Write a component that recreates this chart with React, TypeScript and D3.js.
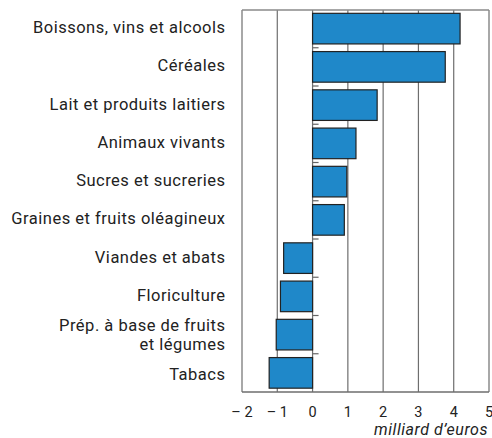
import React from "react";
import * as d3 from "d3";

const categories = [
  "Boissons, vins et alcools",
  "Céréales",
  "Lait et produits laitiers",
  "Animaux vivants",
  "Sucres et sucreries",
  "Graines et fruits oléagineux",
  "Viandes et abats",
  "Floriculture",
  "Prép. à base de fruits|et légumes",
  "Tabacs",
];
const values = [4.18, 3.76, 1.83, 1.23, 0.97, 0.9, -0.82, -0.91, -1.03, -1.23];
const xTicks = [-2, -1, 0, 1, 2, 3, 4, 5];
const xTickLabels = ["– 2", "– 1", "0", "1", "2", "3", "4", "5"];
const axisTitle = "milliard d’euros";

const W = 492;
const H = 438;
const FONT = "Roboto, 'Noto Sans', sans-serif";

export default function App() {
  const x = d3.scaleLinear().domain([-2, 5]).range([242, 489]);
  const y = d3.scaleBand<string>().domain(categories).range([9.5, 392]).paddingInner(0.2).paddingOuter(0.1);
  const top = 10;
  const bottom = 392;
  const step = y.step();
  const bw = y.bandwidth();
  const gap = step - bw;

  return (
    <svg width={W} height={H} style={{ position: "absolute", left: 0, top: 0, background: "#fff" }}>
      <rect x={0} y={0} width={W} height={H} fill="#fff" />
      {xTicks.map((t) => (
        <line key={"g" + t} x1={x(t)} x2={x(t)} y1={top} y2={bottom} stroke="#6e6e6e" strokeWidth={1.2} />
      ))}
      <line x1={x(-2)} x2={x(5)} y1={top} y2={top} stroke="#8a8a8a" strokeWidth={1.4} />
      <line x1={x(-2)} x2={x(5)} y1={bottom} y2={bottom} stroke="#6e6e6e" strokeWidth={1.4} />
      {categories.slice(1).map((c) => (
        <line key={"t" + c} x1={x(0)} x2={x(0) + 6} y1={(y(c) as number) - gap / 2} y2={(y(c) as number) - gap / 2} stroke="#666" strokeWidth={1.2} />
      ))}
      {categories.map((c, i) => {
        const v = values[i];
        const x0 = x(Math.min(0, v));
        const x1 = x(Math.max(0, v));
        return (
          <rect key={"b" + c} x={x0} y={y(c) as number} width={x1 - x0} height={bw} fill="#1f88c9" stroke="#222" strokeWidth={1.2} />
        );
      })}
      {categories.map((c, i) => {
        const cy = (y(c) as number) + bw / 2;
        const lines = c.split("|");
        const off = i === categories.length - 1 ? 7.5 : 4.5;
        return (
          <text key={"l" + c} x={225.5} textAnchor="end" fontFamily={FONT} fontSize={16.5} letterSpacing={0.5} fill="#222">
            {lines.map((ln, j) => (
              <tspan key={j} x={225.5} y={lines.length > 1 ? cy + 5.5 + (j - 0.5) * 19 : cy + off}>
                {ln}
              </tspan>
            ))}
          </text>
        );
      })}
      {xTicks.map((t, i) => (
        <text key={"xl" + t} x={x(t)} y={416.5} textAnchor="middle" fontFamily={FONT} fontSize={14.5} fill="#222">
          {xTickLabels[i]}
        </text>
      ))}
      <text x={488} y={434.5} textAnchor="end" fontFamily={FONT} fontSize={16} letterSpacing={0.55} fontStyle="italic" fill="#222">
        {axisTitle}
      </text>
    </svg>
  );
}
